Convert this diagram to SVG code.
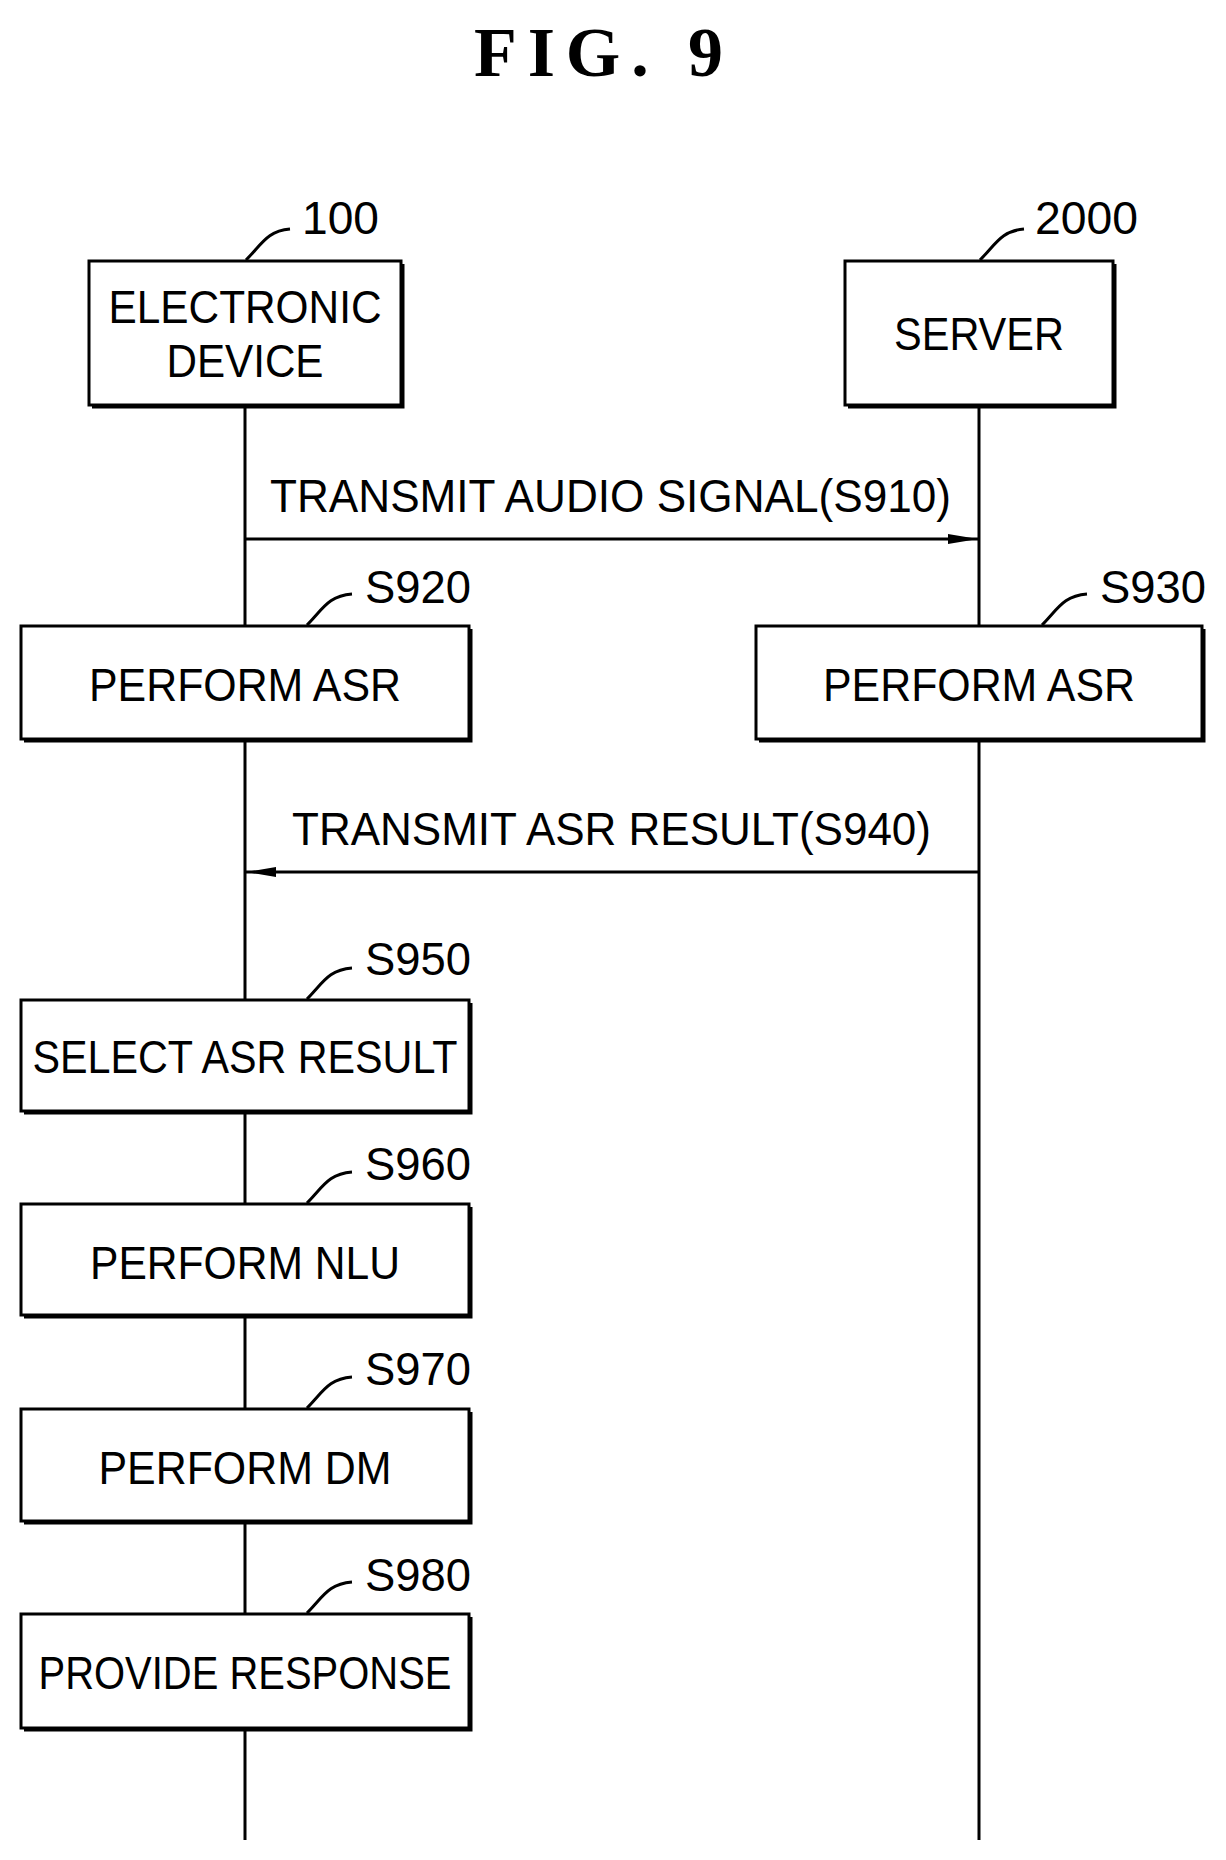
<svg xmlns="http://www.w3.org/2000/svg" width="1226" height="1860" viewBox="0 0 1226 1860">
<style>
text{font-family:"Liberation Sans",Arial,sans-serif;font-size:46px;fill:#000}
.b{fill:#fff;stroke:#000;stroke-width:3}
.s{fill:none;stroke:#000;stroke-width:3}
.l{fill:none;stroke:#000;stroke-width:3}
.c{text-anchor:middle}
</style>
<defs><marker id="ah" markerWidth="30" markerHeight="12" refX="30" refY="6" orient="auto" markerUnits="userSpaceOnUse"><path d="M0,1 L30,6 L0,11 z" fill="#000"/></marker></defs>
<rect width="1226" height="1860" fill="#fff"/>
<text x="474" y="76" textLength="249" lengthAdjust="spacing" style="font-family:'Liberation Serif',serif;font-weight:bold;font-size:70px">FIG. 9</text>
<g id="connectors">
<line class="l" x1="245" y1="407" x2="245" y2="1840"/>
<line class="l" x1="979" y1="407" x2="979" y2="1840"/>
<line class="l" x1="245" y1="539" x2="978" y2="539" marker-end="url(#ah)"/>
<text x="270" y="512" textLength="681" lengthAdjust="spacingAndGlyphs">TRANSMIT AUDIO SIGNAL(S910)</text>
<line class="l" x1="979" y1="872" x2="246" y2="872" marker-end="url(#ah)"/>
<text x="292" y="845" textLength="639" lengthAdjust="spacingAndGlyphs">TRANSMIT ASR RESULT(S940)</text>
</g>
<g id="n100">
<rect class="b" x="89" y="261" width="312" height="144"/><path class="s" d="M92,407 H403 V264"/>
<text x="245" y="323" class="c" textLength="273" lengthAdjust="spacingAndGlyphs">ELECTRONIC</text>
<text x="245" y="377" class="c" textLength="157" lengthAdjust="spacingAndGlyphs">DEVICE</text>
<path class="l" d="M246,260 C262,244 267,231 290,229"/><text x="302" y="234" textLength="77" lengthAdjust="spacingAndGlyphs">100</text>
</g>
<g id="n2000">
<rect class="b" x="845" y="261" width="268" height="144"/><path class="s" d="M848,407 H1115 V264"/>
<text x="979" y="350" class="c" textLength="170" lengthAdjust="spacingAndGlyphs">SERVER</text>
<path class="l" d="M980,260 C996,244 1001,231 1024,229"/><text x="1035" y="234" textLength="103" lengthAdjust="spacingAndGlyphs">2000</text>
</g>
<g id="s920">
<rect class="b" x="21" y="626" width="448" height="113"/><path class="s" d="M24,741 H471 V629"/>
<text x="245" y="701" class="c" textLength="312" lengthAdjust="spacingAndGlyphs">PERFORM ASR</text>
<path class="l" d="M307,625 C323,609 328,596 352,594"/><text x="365" y="603" textLength="106" lengthAdjust="spacingAndGlyphs">S920</text>
</g>
<g id="s930">
<rect class="b" x="756" y="626" width="446" height="113"/><path class="s" d="M759,741 H1204 V629"/>
<text x="979" y="701" class="c" textLength="312" lengthAdjust="spacingAndGlyphs">PERFORM ASR</text>
<path class="l" d="M1042,625 C1058,609 1063,596 1087,594"/><text x="1100" y="603" textLength="106" lengthAdjust="spacingAndGlyphs">S930</text>
</g>
<g id="s950">
<rect class="b" x="21" y="1000" width="448" height="111"/><path class="s" d="M24,1113 H471 V1003"/>
<text x="245" y="1073" class="c" textLength="425" lengthAdjust="spacingAndGlyphs">SELECT ASR RESULT</text>
<path class="l" d="M307,999 C323,983 328,970 352,968"/><text x="365" y="975" textLength="106" lengthAdjust="spacingAndGlyphs">S950</text>
</g>
<g id="s960">
<rect class="b" x="21" y="1204" width="448" height="111"/><path class="s" d="M24,1317 H471 V1207"/>
<text x="245" y="1279" class="c" textLength="310" lengthAdjust="spacingAndGlyphs">PERFORM NLU</text>
<path class="l" d="M307,1203 C323,1187 328,1174 352,1172"/><text x="365" y="1180" textLength="106" lengthAdjust="spacingAndGlyphs">S960</text>
</g>
<g id="s970">
<rect class="b" x="21" y="1409" width="448" height="112"/><path class="s" d="M24,1523 H471 V1412"/>
<text x="245" y="1484" class="c" textLength="293" lengthAdjust="spacingAndGlyphs">PERFORM DM</text>
<path class="l" d="M307,1408 C323,1392 328,1379 352,1377"/><text x="365" y="1385" textLength="106" lengthAdjust="spacingAndGlyphs">S970</text>
</g>
<g id="s980">
<rect class="b" x="21" y="1614" width="448" height="114"/><path class="s" d="M24,1730 H471 V1617"/>
<text x="245" y="1689" class="c" textLength="413" lengthAdjust="spacingAndGlyphs">PROVIDE RESPONSE</text>
<path class="l" d="M307,1613 C323,1597 328,1584 352,1582"/><text x="365" y="1591" textLength="106" lengthAdjust="spacingAndGlyphs">S980</text>
</g>
</svg>
